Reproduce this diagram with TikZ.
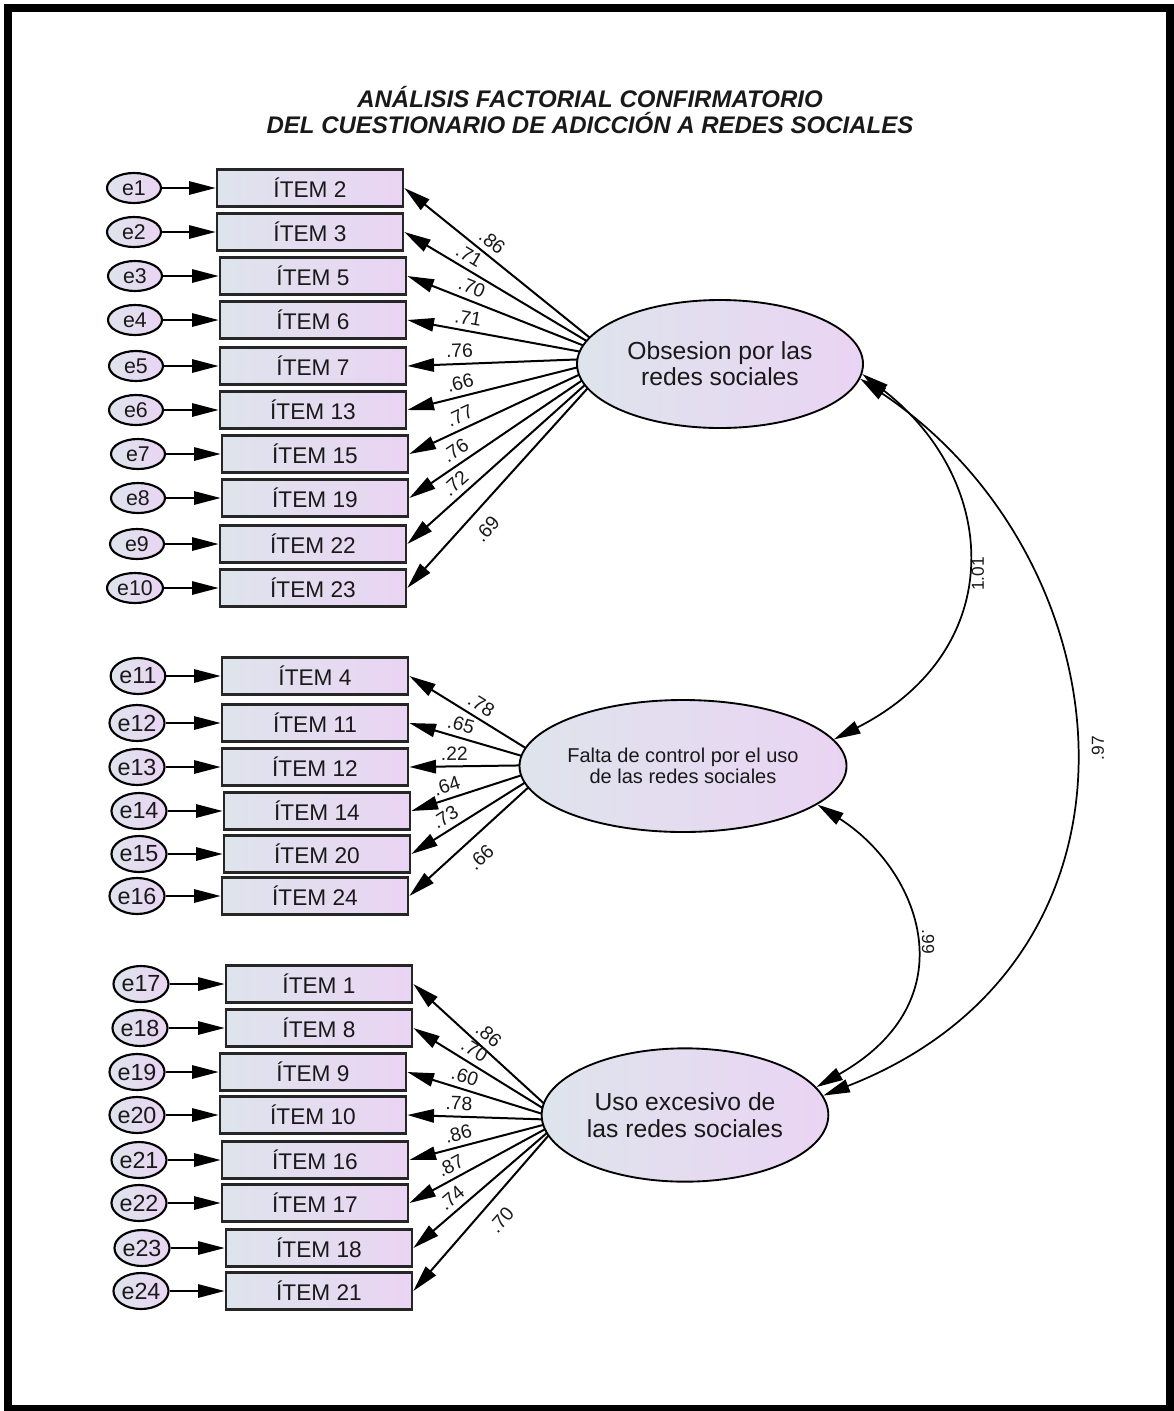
\documentclass[tikz,border=0pt]{standalone}
\usepackage{fontspec}
\setmainfont{Liberation Sans}
\usetikzlibrary{arrows.meta,shapes.geometric,intersections}
\definecolor{cL}{RGB}{222,228,236}
\definecolor{cR}{RGB}{234,212,243}
\definecolor{txt}{RGB}{25,25,25}
\tikzset{
 itembox/.style={draw=black!85, line width=2pt, left color=cL, right color=cR, minimum width=139.5pt, minimum height=27.5pt, inner sep=0pt, font=\fontsize{17}{18}\selectfont, text=txt},
 errA/.style={ellipse, draw, line width=1.6pt, left color=cL, right color=cR, minimum width=40.5pt, minimum height=22.5pt, inner sep=0pt, font=\fontsize{16}{16}\selectfont, text=txt},
 errB/.style={errA, minimum width=41pt, minimum height=27pt, font=\fontsize{17.5}{17}\selectfont},
 factor/.style={ellipse, draw, line width=1.4pt, left color=cL, right color=cR, inner sep=0pt, align=center, text=txt},
 arr/.style={-{Triangle[length=20pt,width=10pt]}, line width=1.5pt},
 rarr/.style={{Triangle[length=20pt,width=10pt]}-, line width=1.5pt},
 biarr/.style={{Triangle[length=20pt,width=10pt]}-{Triangle[length=20pt,width=10pt]}, line width=1.3pt},
 load/.style={font=\fontsize{14.5}{14}\selectfont, sloped, inner sep=1pt, text=txt},
 cov/.style={font=\fontsize{13}{13}\selectfont, inner sep=0pt, text=txt},
}
\newcommand\ldline[6]{%
 \path[name path=tmpl] (#3.east) -- (#2);
 \draw[rarr, name intersections={of=#1 and tmpl, by=isx}] (#3.east) -- (isx) node[load, pos=#4, #6] {#5};
}
\begin{document}
\begin{tikzpicture}[x=0.75pt, y=-0.75pt]
\useasboundingbox (0,0) rectangle (1174,1411);
\fill[white] (0,0) rectangle (1174,1411);
\draw[line width=6pt] (8,8) rectangle (1170,1409);

\node[font=\bfseries\itshape\fontsize{18}{19.5}\selectfont, align=center, text=txt] (title) at (590,110)
 {ANÁLISIS FACTORIAL CONFIRMATORIO\\DEL CUESTIONARIO DE ADICCIÓN A REDES SOCIALES};

% factors
\node[factor, name path=F1, minimum width=214.5pt, minimum height=96pt, font=\fontsize{18.5}{19.5}\selectfont] (F1) at (720,364) {Obsesion por las\\redes sociales};
\node[factor, name path=F2, minimum width=215pt, minimum height=99pt, font=\fontsize{15}{15.5}\selectfont] (F2) at (683,766) {Falta de control por el uso\\de las redes sociales};
\node[factor, name path=F3, minimum width=215pt, minimum height=100pt, font=\fontsize{18.5}{20}\selectfont] (F3) at (685,1115) {Uso excesivo de\\las redes sociales};

\coordinate (A1) at (615,358);
\coordinate (A2) at (553,765);
\coordinate (A3) at (562,1120);

% group 1
\node[itembox] (I2) at (310,188) {ÍTEM 2};
\node[itembox] (I3) at (310,232) {ÍTEM 3};
\node[itembox] (I5) at (313,276) {ÍTEM 5};
\node[itembox] (I6) at (313,320) {ÍTEM 6};
\node[itembox] (I7) at (313,366) {ÍTEM 7};
\node[itembox] (I13) at (313,410) {ÍTEM 13};
\node[itembox] (I15) at (315,454) {ÍTEM 15};
\node[itembox] (I19) at (315,498) {ÍTEM 19};
\node[itembox] (I22) at (313,544) {ÍTEM 22};
\node[itembox] (I23) at (313,588) {ÍTEM 23};

\node[errA] (e1) at (134,188) {e1};
\node[errA] (e2) at (134,232) {e2};
\node[errA] (e3) at (135,276) {e3};
\node[errA] (e4) at (135,320) {e4};
\node[errA] (e5) at (136,366) {e5};
\node[errA] (e6) at (136,410) {e6};
\node[errA] (e7) at (138,454) {e7};
\node[errA] (e8) at (138,498) {e8};
\node[errA] (e9) at (137,544) {e9};
\node[errA, minimum width=42pt] (e10) at (135,588) {e10};

% group 2
\node[itembox] (I4) at (315,676) {ÍTEM 4};
\node[itembox] (I11) at (315,723) {ÍTEM 11};
\node[itembox] (I12) at (315,767) {ÍTEM 12};
\node[itembox] (I14) at (317,811) {ÍTEM 14};
\node[itembox] (I20) at (317,854) {ÍTEM 20};
\node[itembox] (I24) at (315,896) {ÍTEM 24};

\node[errB] (e11) at (138,676) {e11};
\node[errB] (e12) at (137,723) {e12};
\node[errB] (e13) at (137,767) {e13};
\node[errB] (e14) at (139,811) {e14};
\node[errB] (e15) at (139,854) {e15};
\node[errB] (e16) at (137,896) {e16};

% group 3
\node[itembox] (I1) at (319,984) {ÍTEM 1};
\node[itembox] (I8) at (319,1028) {ÍTEM 8};
\node[itembox] (I9) at (313,1072) {ÍTEM 9};
\node[itembox] (I10) at (313,1115) {ÍTEM 10};
\node[itembox] (I16) at (315,1160) {ÍTEM 16};
\node[itembox] (I17) at (315,1203) {ÍTEM 17};
\node[itembox] (I18) at (319,1248) {ÍTEM 18};
\node[itembox] (I21) at (319,1291) {ÍTEM 21};

\node[errB] (e17) at (141,984) {e17};
\node[errB] (e18) at (140,1028) {e18};
\node[errB] (e19) at (137,1072) {e19};
\node[errB] (e20) at (137,1115) {e20};
\node[errB] (e21) at (139,1160) {e21};
\node[errB] (e22) at (139,1203) {e22};
\node[errB] (e23) at (142,1248) {e23};
\node[errB] (e24) at (141,1291) {e24};

% error arrows
\foreach \e/\i in {e1/I2,e2/I3,e3/I5,e4/I6,e5/I7,e6/I13,e7/I15,e8/I19,e9/I22,e10/I23,
  e11/I4,e12/I11,e13/I12,e14/I14,e15/I20,e16/I24,
  e17/I1,e18/I8,e19/I9,e20/I10,e21/I16,e22/I17,e23/I18,e24/I21}
  \draw[arr] (\e) -- (\i);

% loadings group 1
\ldline{F1}{A1}{I2}{0.43}{.86}{above=3pt}
\ldline{F1}{A1}{I3}{0.32}{.71}{above=3pt}
\ldline{F1}{A1}{I5}{0.34}{.70}{above=3pt}
\ldline{F1}{A1}{I6}{0.34}{.71}{above=3pt}
\ldline{F1}{A1}{I7}{0.31}{.76}{above=3pt}
\ldline{F1}{A1}{I13}{0.33}{.66}{above=3pt}
\ldline{F1}{A1}{I15}{0.33}{.77}{above=3pt}
\ldline{F1}{A1}{I19}{0.31}{.76}{above=3pt}
\ldline{F1}{A1}{I22}{0.32}{.72}{above=3pt}
\ldline{F1}{A1}{I23}{0.36}{.69}{below=8pt}
% group 2
\ldline{F2}{A2}{I4}{0.56}{.78}{above=3pt}
\ldline{F2}{A2}{I11}{0.43}{.65}{above=3pt}
\ldline{F2}{A2}{I12}{0.41}{.22}{above=3pt}
\ldline{F2}{A2}{I14}{0.36}{.64}{above=3pt}
\ldline{F2}{A2}{I20}{0.36}{.73}{above=3pt}
\ldline{F2}{A2}{I24}{0.49}{.66}{below=8pt}
% group 3
\ldline{F3}{A3}{I1}{0.51}{.86}{above=3pt}
\ldline{F3}{A3}{I8}{0.42}{.70}{above=3pt}
\ldline{F3}{A3}{I9}{0.40}{.60}{above=3pt}
\ldline{F3}{A3}{I10}{0.38}{.78}{above=3pt}
\ldline{F3}{A3}{I16}{0.39}{.86}{above=3pt}
\ldline{F3}{A3}{I17}{0.35}{.87}{above=3pt}
\ldline{F3}{A3}{I18}{0.35}{.74}{above=3pt}
\ldline{F3}{A3}{I21}{0.54}{.70}{below=8pt}

% covariances
\draw[biarr] (F1.-4) .. controls (1000,480) and (1010,650) .. (F2.10);
\draw[biarr] (F1.-6) .. controls (1130,560) and (1170,960) .. (F3.8);
\draw[biarr] (F2.-16) .. controls (920,870) and (970,1000) .. (F3.12);
\node[cov, rotate=90] (c101) at (978,574) {1.01};
\node[cov, rotate=90] (c97) at (1098,748) {.97};
\node[cov, rotate=-90] (c99) at (928,942) {.99};
\end{tikzpicture}
\end{document}
